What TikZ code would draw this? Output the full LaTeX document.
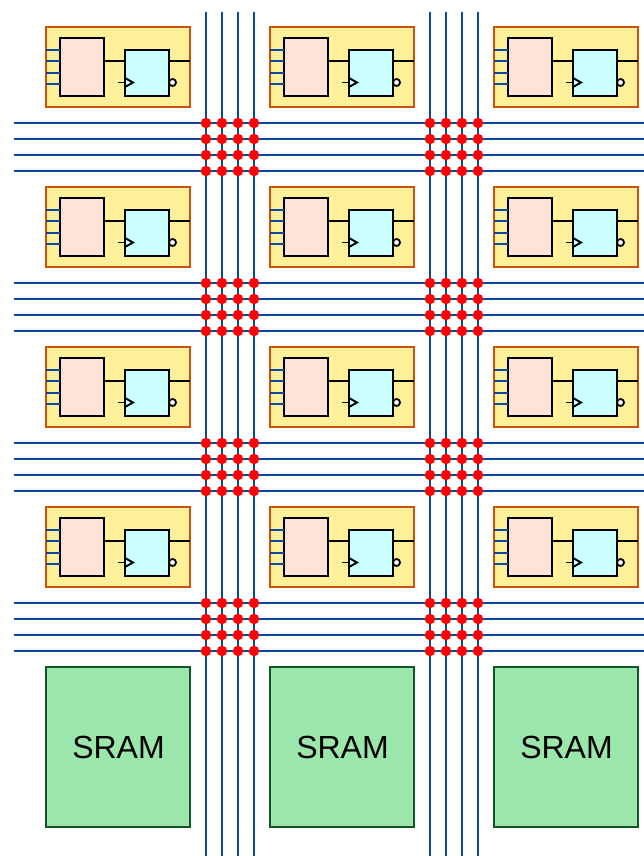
\documentclass[tikz,border=0pt]{standalone}
\usepackage{fontspec}
\setmainfont{Liberation Sans}
\usetikzlibrary{positioning}
\definecolor{wireblue}{HTML}{0A4A9E}
\definecolor{cellfill}{HTML}{FFF09A}
\definecolor{celledge}{HTML}{CC5208}
\definecolor{lutfill}{HTML}{FFE3D8}
\definecolor{ffill}{HTML}{CCFFFF}
\definecolor{sramfill}{HTML}{9AE6AB}
\definecolor{sramedge}{HTML}{14562A}
\tikzstyle{cell} = [rectangle, draw=celledge, fill=cellfill, line width=2pt, minimum width=144pt, minimum height=80pt, inner sep=0pt, outer sep=0pt]
\tikzstyle{lut} = [rectangle, draw=black, fill=lutfill, line width=2pt, minimum width=44pt, minimum height=58pt, inner sep=0pt, outer sep=0pt]
\tikzstyle{flop} = [rectangle, draw=black, fill=ffill, line width=2pt, minimum width=44pt, minimum height=46pt, inner sep=0pt, outer sep=0pt]
\tikzstyle{bubble} = [circle, draw=black, fill=white, line width=1.8pt, minimum size=7pt, inner sep=0pt, outer sep=0pt]
\tikzstyle{sram} = [rectangle, draw=sramedge, fill=sramfill, line width=1.7pt, minimum width=144pt, minimum height=160pt, inner sep=0pt, outer sep=0pt, font=\fontsize{32}{36}\selectfont]
\tikzstyle{switch} = [circle, fill=red, minimum size=10.5pt, inner sep=0pt, outer sep=0pt]
\tikzstyle{track} = [draw=wireblue, line width=2pt]
\tikzstyle{pin} = [draw=wireblue, line width=1.7pt]
\tikzstyle{wire} = [draw=black, line width=1.9pt]

\begin{document}
\begin{tikzpicture}[x=1pt, y=-1pt]
    \useasboundingbox (0,0) rectangle (644,856);

    % Routing tracks
    \foreach \x [count=\i] in {206,222,238,254,430,446,462,478} {
        \coordinate (vtop\i) at (\x,12);
        \coordinate (vbot\i) at (\x,856);
        \draw [track] (vtop\i) -- (vbot\i);
    }
    \foreach \y [count=\j] in {123,139,155,171,283,299,315,331,443,459,475,491,603,619,635,651} {
        \coordinate (hleft\j) at (14,\y);
        \coordinate (hright\j) at (644,\y);
        \draw [track] (hleft\j) -- (hright\j);
    }

    % Switch points
    \foreach \i in {1,...,8} {
        \foreach \j in {1,...,16} {
            \node (sw\i-\j) [switch] at (vtop\i |- hleft\j) {};
        }
    }

    % Logic cells
    \foreach \c in {0,1,2} {
        \foreach \r in {0,1,2,3} {
            \pgfmathsetmacro{\cx}{118+224*\c}
            \pgfmathsetmacro{\cy}{67+160*\r}
            \node (cell\c\r) [cell] at (\cx,\cy) {};
            \node (lut\c\r) [lut, right=14pt of cell\c\r.west] {};
            \node (ff\c\r) [flop, right=21pt of lut\c\r.east, yshift=-6pt] {};
            \foreach \d in {17,6,-6,-17} {
                \draw [pin] ([yshift=\d pt]cell\c\r.west) -- ([yshift=\d pt]lut\c\r.west);
            }
            \draw [wire] ([yshift=6pt]lut\c\r.east) -- ([yshift=12pt]ff\c\r.west);
            \draw [wire] ([yshift=12pt]ff\c\r.east) -- ([yshift=6pt]cell\c\r.east);
            \node (inv\c\r) [bubble, right=0pt of {[yshift=-9.5pt]ff\c\r.east}] {};
            \coordinate (clk\c\r) at ([yshift=-9.5pt]ff\c\r.west);
            \coordinate (clkin\c\r) at ([xshift=-7pt]clk\c\r);
            \draw [wire] (clkin\c\r) -- (clk\c\r);
            \draw [wire] ([yshift=4.5pt]clk\c\r) -- ([xshift=8pt]clk\c\r) -- ([yshift=-4.5pt]clk\c\r);
        }
    }

    % Memory blocks
    \foreach \c in {0,1,2} {
        \pgfmathsetmacro{\cx}{118+224*\c}
        \node (sram\c) [sram, text depth=0pt] at (\cx,747) {\hspace*{1pt}\raisebox{-1.5pt}{SRAM}};
    }
\end{tikzpicture}
\end{document}
